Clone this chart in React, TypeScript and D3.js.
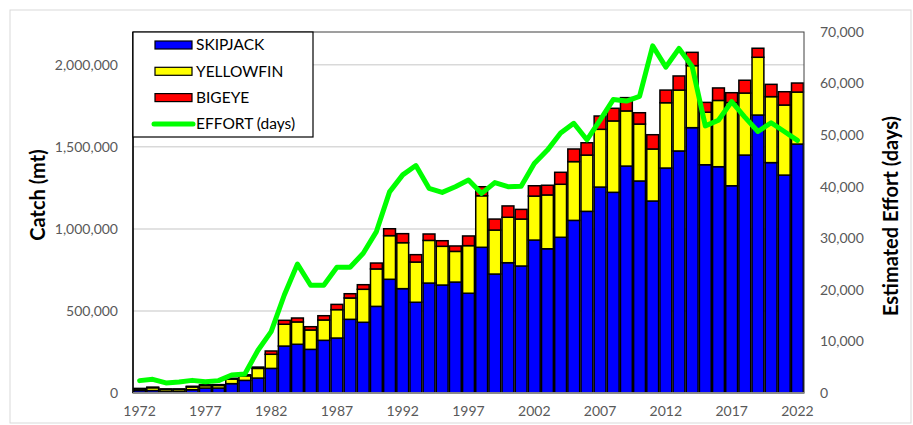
import React from "react";
import * as d3 from "d3";

const years: number[] = d3.range(1972, 2023);

const skipjack: number[] = [
  15000, 15000, 10000, 10000, 20000, 30000, 30000, 57000, 77000, 91000,
  150000, 286000, 297000, 266000, 321000, 335000, 449000, 431000, 528000, 693000,
  636000, 553000, 670000, 658000, 676000, 608000, 888000, 725000, 794000, 774000,
  932000, 879000, 949000, 1052000, 1107000, 1255000, 1223000, 1383000, 1292000, 1170000,
  1371000, 1475000, 1617000, 1391000, 1379000, 1263000, 1450000, 1694000, 1404000, 1328000,
  1517000,
];

const yellowfin: number[] = [
  10000, 17000, 12000, 12000, 17000, 15000, 16000, 28000, 28000, 59000,
  86000, 133000, 136000, 118000, 124000, 173000, 130000, 201000, 228000, 266000,
  280000, 245000, 260000, 236000, 187000, 290000, 314000, 268000, 277000, 286000,
  268000, 328000, 323000, 358000, 343000, 352000, 435000, 336000, 347000, 317000,
  398000, 371000, 378000, 320000, 404000, 507000, 378000, 352000, 402000, 427000,
  317000,
];

const bigeye: number[] = [
  3000, 4000, 3000, 3000, 4000, 5000, 5000, 5000, 6000, 8000,
  20000, 24000, 24000, 20000, 26000, 32000, 26000, 28000, 36000, 42000,
  55000, 45000, 39000, 34000, 33000, 59000, 55000, 67000, 69000, 59000,
  63000, 59000, 73000, 77000, 75000, 81000, 77000, 81000, 69000, 87000,
  77000, 86000, 81000, 60000, 76000, 60000, 78000, 55000, 75000, 81000,
  55000,
];

const effort: number[] = [
  2400, 2650, 1950, 2150, 2450, 2200, 2400, 3500, 3700, 8300,
  11900, 19000, 25000, 20900, 20900, 24400, 24400, 27100, 31300, 39000,
  42300, 44100, 39700, 38900, 40000, 41300, 38700, 40800, 40000, 40100,
  44500, 47100, 50400, 52300, 49100, 52900, 56900, 56600, 57500, 67300,
  63200, 66800, 63300, 51800, 52900, 56500, 53500, 50700, 52400, 50700,
  49000,
];

const seriesNames: string[] = ["SKIPJACK", "YELLOWFIN", "BIGEYE"];
const seriesColors: string[] = ["#0000ff", "#ffff00", "#ff0000"];
const effortLabel = "EFFORT (days)";
const effortColor = "#00ff00";

const leftTicks: number[] = [0, 500000, 1000000, 1500000, 2000000];
const rightTicks: number[] = [0, 10000, 20000, 30000, 40000, 50000, 60000, 70000];
const xTickYears: number[] = [1972, 1977, 1982, 1987, 1992, 1997, 2002, 2007, 2012, 2017, 2022];

const W = 913;
const H = 425;
const m = { left: 133, right: 804, top: 32, bottom: 393 };
const FONT = "Lato, 'Open Sans', sans-serif";

export default function App() {
  const x = d3
    .scaleBand<number>()
    .domain(years)
    .range([m.left, m.right])
    .paddingInner(0.1)
    .paddingOuter(0.05);
  const yL = d3.scaleLinear().domain([0, 2200000]).range([m.bottom, m.top]);
  const yR = d3.scaleLinear().domain([0, 70000]).range([m.bottom, m.top]);

  const table = years.map((yr, i) => ({
    year: yr,
    SKIPJACK: skipjack[i],
    YELLOWFIN: yellowfin[i],
    BIGEYE: bigeye[i],
  }));
  const stacked = d3.stack<any>().keys(seriesNames)(table);

  const line = d3
    .line<number>()
    .x((_, i) => (x(years[i]) as number) + x.bandwidth() / 2)
    .y((d) => yR(d));

  const fmt = d3.format(",");

  return (
    <svg
      width={W}
      height={H}
      style={{ position: "absolute", left: 0, top: 0, background: "#fff" }}
      fontFamily={FONT}
    >
      <rect x={10} y={10} width={W - 12} height={H - 12} fill="#fff" stroke="#d9d9d9" strokeWidth={1} />

      {/* gridlines */}
      {leftTicks.filter((t) => t > 0).map((t) => (
        <line key={t} x1={m.left} x2={m.right} y1={yL(t)} y2={yL(t)} stroke="#d9d9d9" strokeWidth={1.5} />
      ))}

      {/* bars */}
      {stacked.map((s, si) => (
        <g key={s.key} fill={seriesColors[si]} stroke="#000" strokeWidth={1.5}>
          {s.map((d, i) => (
            <rect
              key={i}
              x={x(years[i])}
              width={x.bandwidth()}
              y={yL(d[1])}
              height={Math.max(0, yL(d[0]) - yL(d[1]))}
            />
          ))}
        </g>
      ))}

      {/* effort line */}
      <path d={line(effort) || ""} fill="none" stroke={effortColor} strokeWidth={5} strokeLinejoin="round" strokeLinecap="round" />

      {/* plot border */}
      <rect x={m.left} y={m.top} width={m.right - m.left} height={m.bottom - m.top} fill="none" stroke="#404040" strokeWidth={1} />
      <line x1={m.left} x2={m.left} y1={m.top} y2={m.bottom} stroke="#000" strokeWidth={1.5} />
      <line x1={m.left} x2={m.right} y1={m.bottom} y2={m.bottom} stroke="#a6a6a6" strokeWidth={1.5} />

      {/* left ticks */}
      {leftTicks.map((t) => (
        <text key={t} x={118} y={yL(t)} dy="0.35em" textAnchor="end" fontSize={14} fill="#595959">
          {fmt(t)}
        </text>
      ))}
      {/* right ticks */}
      {rightTicks.map((t) => (
        <text key={t} x={820} y={yR(t)} dy="0.35em" textAnchor="start" fontSize={14} fill="#595959">
          {fmt(t)}
        </text>
      ))}
      {/* x ticks */}
      {xTickYears.map((yr) => (
        <text
          key={yr}
          x={(x(yr) as number) + x.bandwidth() / 2}
          y={411}
          dy="0.35em"
          textAnchor="middle"
          fontSize={14}
          fill="#595959"
        >
          {yr}
        </text>
      ))}

      {/* axis titles */}
      <text
        transform={`translate(38,195) rotate(-90)`}
        textAnchor="middle"
        dy="0.35em"
        fontSize={20}
        fontWeight="bold"
        fill="#000"
      >
        Catch (mt)
      </text>
      <text
        transform={`translate(891,216) rotate(-90)`}
        textAnchor="middle"
        dy="0.35em"
        fontSize={20}
        fontWeight="bold"
        fill="#000"
      >
        Estimated Effort (days)
      </text>

      {/* legend */}
      <g>
        <rect x={133} y={32} width={180} height={105} fill="#fff" stroke="#000" strokeWidth={1.2} />
        {seriesNames.map((n, i) => (
          <g key={n} transform={`translate(0,${45 + i * 26.3})`}>
            <rect x={155} y={-4} width={37} height={8} fill={seriesColors[i]} stroke="#000" strokeWidth={1.2} />
            <text x={196} y={0} dy="0.35em" fontSize={15.5} fill="#000">
              {n}
            </text>
          </g>
        ))}
        <g transform={`translate(0,${45 + 3 * 26.3})`}>
          <line x1={154} x2={193} y1={0} y2={0} stroke={effortColor} strokeWidth={5} strokeLinecap="round" />
          <text x={196} y={0} dy="0.35em" fontSize={15.5} fill="#000">
            {effortLabel}
          </text>
        </g>
      </g>
    </svg>
  );
}
